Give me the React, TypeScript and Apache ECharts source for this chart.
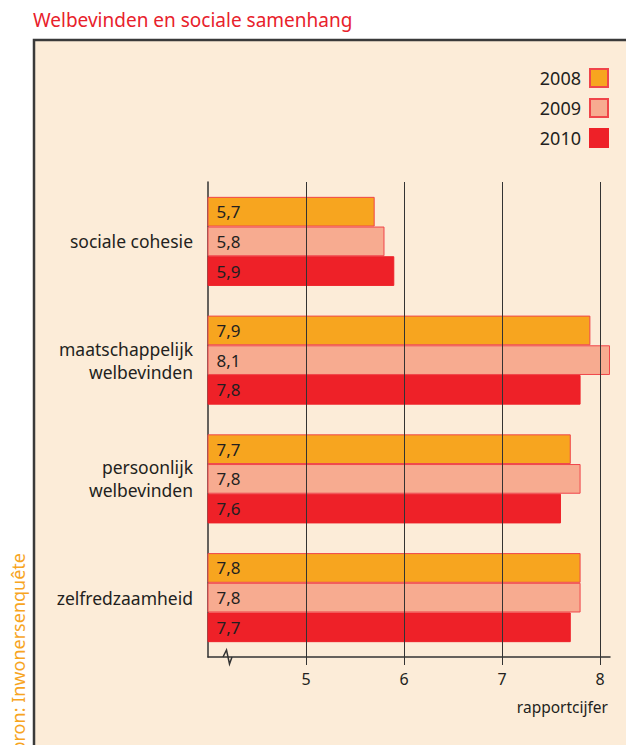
import React, { useEffect, useRef } from "react";
import * as echarts from "echarts";

const categories = ["sociale cohesie", "maatschappelijk\nwelbevinden", "persoonlijk\nwelbevinden", "zelfredzaamheid"];
const seriesNames = ["2008", "2009", "2010"];
const values2008 = [5.7, 7.9, 7.7, 7.8];
const values2009 = [5.8, 8.1, 7.8, 7.8];
const values2010 = [5.9, 7.8, 7.6, 7.7];
const tickValues = [5, 6, 7, 8];

const FONT = "'Noto Sans', 'Open Sans', sans-serif";
const colors = ["#f7a51f", "#f7ab90", "#ee2128"];
const borders = ["#f0454a", "#f0454a", "#ee2128"];

export default function App() {
  const ref = useRef<HTMLDivElement>(null);
  useEffect(() => {
    document.body.style.margin = "0";
    const chart = echarts.init(ref.current!, null, { renderer: "svg" });
    const data = [values2008, values2009, values2010];
    const series: any[] = seriesNames.map((name, i) => ({
      name,
      type: "bar",
      data: data[i],
      barGap: "0%",
      barCategoryGap: "25%",
      z: 3,
      itemStyle: { color: colors[i], borderColor: borders[i], borderWidth: 1 },
      label: {
        show: true,
        position: "insideLeft",
        distance: 9,
        color: "#231f20",
        fontSize: 17,
        fontFamily: FONT,
        formatter: (p: any) => String(p.value).replace(".", ","),
      },
    }));
    series.push({
      name: "grid",
      type: "line",
      data: [],
      z: 1,
      markLine: {
        silent: true,
        symbol: "none",
        label: { show: false },
        lineStyle: { color: "#333", width: 1, type: "solid" },
        data: tickValues.map((v) => ({ xAxis: v })),
      },
    });
    chart.setOption({
      animation: false,
      backgroundColor: "#ffffff",
      textStyle: { fontFamily: FONT },
      legend: {
        data: seriesNames,
        orient: "vertical",
        right: 17,
        top: 68,
        padding: 0,
        align: "right",
        itemWidth: 18,
        itemHeight: 18,
        itemGap: 10,
        icon: "rect",
        textStyle: { fontSize: 18, color: "#231f20", fontFamily: FONT, padding: [0, 4, 0, 0] },
      },
      grid: { left: 208, right: 16, top: 182, bottom: 88, containLabel: false },
      xAxis: {
        type: "value",
        min: 4,
        max: 8.1,
        interval: 1,
        splitLine: { show: false },
        axisLine: { show: true, lineStyle: { color: "#333", width: 1.5 } },
        axisTick: { show: true, customValues: tickValues, length: 8, lineStyle: { color: "#333", width: 1 } },
        axisLabel: { customValues: tickValues, fontSize: 16, color: "#231f20", margin: 14, fontFamily: FONT },
      },
      yAxis: {
        type: "category",
        data: categories,
        inverse: true,
        axisLine: { show: true, lineStyle: { color: "#333", width: 1.5 } },
        axisTick: { show: false },
        axisLabel: { fontSize: 17.5, color: "#231f20", margin: 15, align: "right", lineHeight: 23, fontFamily: FONT },
      },
      series,
      graphic: [
        {
          type: "rect",
          z: -10,
          shape: { x: 34, y: 40, width: 700, height: 800 },
          style: { fill: "#fcecd8", stroke: "#3a3a3a", lineWidth: 2.5 },
        },
        {
          type: "text",
          x: 33,
          y: 29,
          style: { text: "Welbevinden en sociale samenhang", fill: "#e8212b", fontSize: 19, fontFamily: FONT, textVerticalAlign: "bottom" },
        },
        {
          type: "text",
          x: 608,
          y: 707,
          style: { text: "rapportcijfer", fill: "#231f20", fontSize: 15.5, fontFamily: FONT, textAlign: "right", textVerticalAlign: "middle" },
        },
        {
          type: "text",
          x: 18,
          y: 553,
          rotation: Math.PI / 2,
          style: { text: "bron: Inwonersenquête", fill: "#f7a51f", fontSize: 18, fontFamily: FONT, textAlign: "right", textVerticalAlign: "middle" },
        },
        {
          type: "polyline",
          z: 100,
          shape: { points: [[223, 657], [226.5, 650], [229.5, 664], [232, 657]] },
          style: { stroke: "#333", lineWidth: 1.5, fill: "none" },
        },
      ],
    });
    return () => chart.dispose();
  }, []);
  return <div ref={ref} style={{ width: 626, height: 745 }} />;
}
